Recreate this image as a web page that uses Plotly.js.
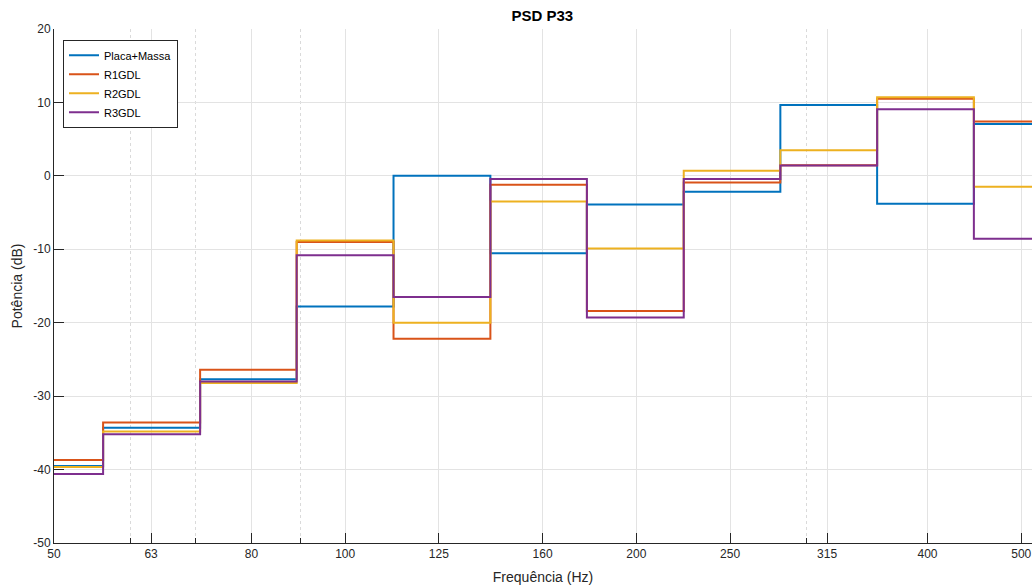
<!DOCTYPE html>
<html>
<head>
<meta charset="utf-8">
<script src="https://cdn.plot.ly/plotly-3.0.1.min.js"></script>
<style>html,body{margin:0;padding:0;background:#fff;}</style>
</head>
<body>
<div id="chart" style="width:1033px;height:588px;"></div>
<script>
// Third-octave band edges (Hz)
const bandEdges = [50, 56.2, 70.8, 89.1, 112.2, 141.3, 177.8, 223.9, 281.8, 354.8, 446.7, 513];
// Band values (dB)
const placaMassa = [-39.5, -34.3, -27.7, -17.8, 0.0, -10.55, -3.9, -2.15, 9.65, -3.8, 7.05];
const r1gdl      = [-38.7, -33.6, -26.4, -9.0, -22.2, -1.2, -18.4, -0.9, 1.45, 10.5, 7.4];
const r2gdl      = [-39.65, -34.8, -28.2, -8.8, -20.0, -3.5, -9.9, 0.7, 3.5, 10.7, -1.5];
const r3gdl      = [-40.6, -35.2, -28.0, -10.8, -16.5, -0.43, -19.3, -0.43, 1.4, 9.06, -8.55];
const seriesNames = ["Placa+Massa", "R1GDL", "R2GDL", "R3GDL"];
const seriesColors = ["#0072BD", "#D95319", "#EDB120", "#7E2F8E"];
const xTicks = [50, 63, 80, 100, 125, 160, 200, 250, 315, 400, 500];
const xMinor = [60, 70, 90, 300];
const yTicks = [-50, -40, -30, -20, -10, 0, 10, 20];
const yTickLabels = ["-50", "-40", "-30", "-20", "-10", "0", "10", "20"];

const allSeries = [placaMassa, r1gdl, r2gdl, r3gdl];
const traces = allSeries.map((vals, i) => ({
  x: bandEdges,
  y: vals.concat([vals[vals.length - 1]]),
  type: "scatter",
  mode: "lines",
  name: seriesNames[i],
  line: {shape: "hv", color: seriesColors[i], width: 2}
}));

const axisColor = "#262626";
const gridColor = "#e3e3e3";
const layout = {
  width: 1033, height: 588,
  margin: {l: 54, r: 1, t: 29, b: 45},
  paper_bgcolor: "#fff", plot_bgcolor: "#fff",
  font: {family: "Liberation Sans, Arial, sans-serif", color: axisColor, size: 11},
  title: {text: "<b>PSD P33</b>", font: {size: 15, color: "#000"}, x: 0.525, xanchor: "center", y: 0.974, yanchor: "middle"},
  xaxis: {
    type: "log",
    range: [Math.log10(50), Math.log10(513)],
    tickmode: "array",
    tickvals: xTicks,
    ticktext: xTicks.map(String),
    ticks: "inside", ticklen: 10, tickwidth: 1, tickcolor: axisColor,
    showline: true, linecolor: axisColor, linewidth: 1,
    showgrid: true, gridcolor: gridColor, gridwidth: 1,
    zeroline: false,
    minor: {tickmode: "array", tickvals: xMinor, ticks: "inside", ticklen: 5, tickcolor: axisColor,
            showgrid: true, gridcolor: "#dadada", griddash: "dot", gridwidth: 1},
    title: {text: "Frequência (Hz)", font: {size: 14, color: axisColor}, standoff: 11},
    tickfont: {size: 12, color: axisColor}
  },
  yaxis: {
    range: [-50, 20],
    tickmode: "array",
    tickvals: yTicks,
    ticktext: yTickLabels,
    ticks: "inside", ticklen: 10, tickwidth: 1, tickcolor: axisColor,
    showline: true, linecolor: axisColor, linewidth: 1,
    showgrid: true, gridcolor: gridColor, gridwidth: 1,
    zeroline: false,
    title: {text: "Potência (dB)", font: {size: 14, color: axisColor}, standoff: 7},
    tickfont: {size: 12, color: axisColor}
  },
  showlegend: true,
  legend: {
    x: 9 / 978, y: 0.979, xanchor: "left", yanchor: "top",
    bgcolor: "#fff", bordercolor: axisColor, borderwidth: 1,
    font: {size: 11, color: "#000"},
    tracegroupgap: 0, itemwidth: 30
  }
};

Plotly.newPlot("chart", traces, layout, {displayModeBar: false, staticPlot: true});
</script>
</body>
</html>
